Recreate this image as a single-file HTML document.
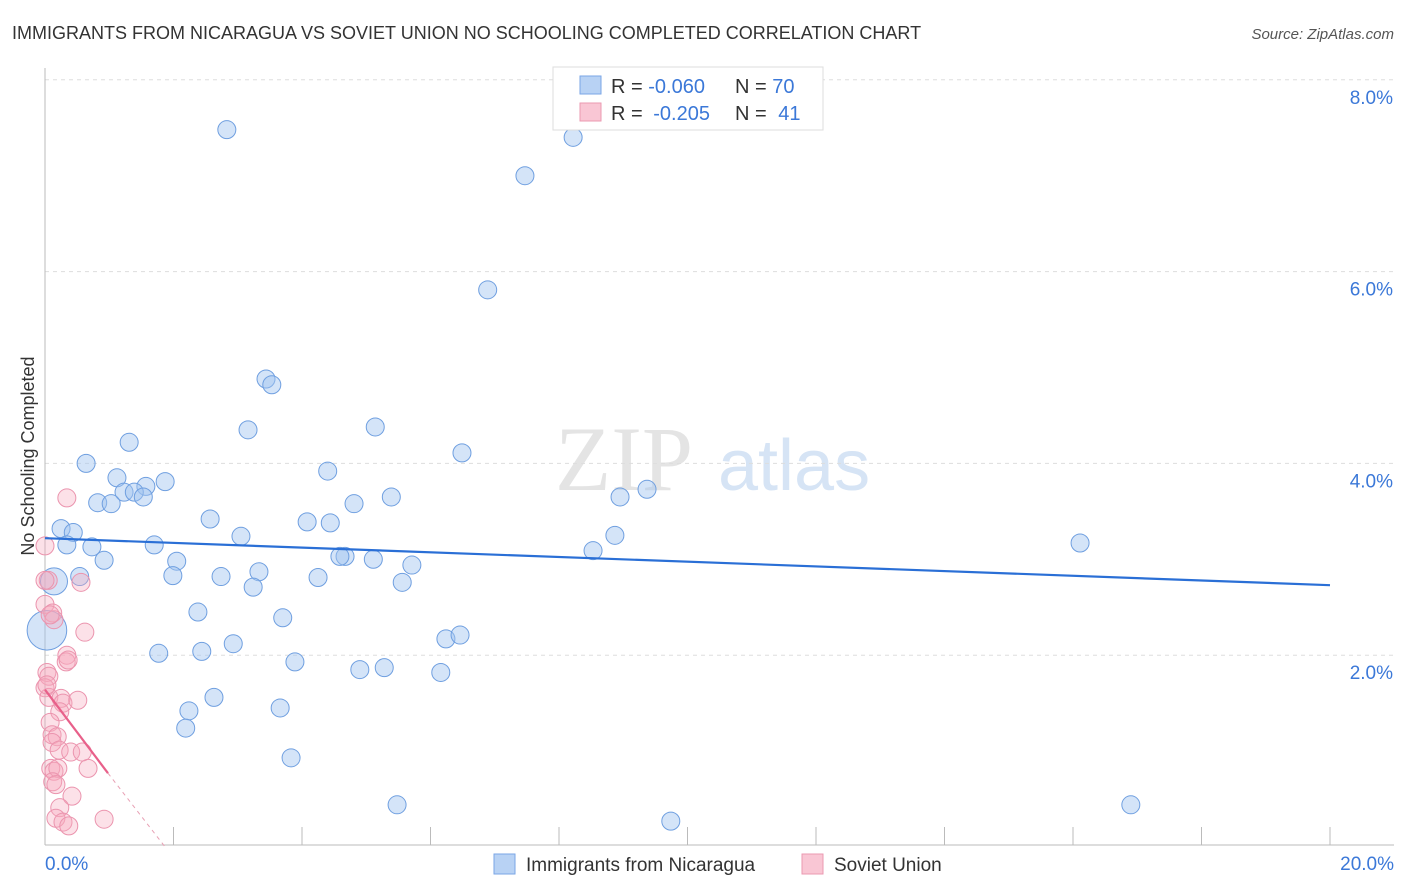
<!DOCTYPE html>
<html><head><meta charset="utf-8"><style>
body{margin:0;background:#fff;font-family:"Liberation Sans",sans-serif;}
svg{display:block}
</style></head><body>
<svg id="chart" width="1406" height="892">
<text x="12" y="39" font-size="18" fill="#333">IMMIGRANTS FROM NICARAGUA VS SOVIET UNION NO SCHOOLING COMPLETED CORRELATION CHART</text>
<text x="1394" y="39" font-size="15" fill="#555" font-style="italic" text-anchor="end">Source: ZipAtlas.com</text>
<text x="555" y="490" font-size="92" fill="#e4e4e4" font-family="Liberation Serif,serif">ZIP</text>
<text x="718" y="490" font-size="72" fill="#d6e4f5">atlas</text>
<text transform="translate(34,456) rotate(-90)" font-size="18" fill="#333" text-anchor="middle">No Schooling Completed</text>
<g id="grid"></g><g id="ticks"></g><g id="marks"></g>
<g>
<rect x="553" y="67" width="270" height="63" fill="#fff" stroke="#ddd"/>
<rect x="580" y="76" width="21" height="18" fill="#b8d2f4" stroke="#7aa6e6"/>
<rect x="580" y="103" width="21" height="18" fill="#f9c6d4" stroke="#eb99b1"/>
<text x="611" y="93" font-size="20" fill="#333">R = <tspan fill="#3b78d8">-0.060</tspan><tspan x="735">N = </tspan><tspan fill="#3b78d8">70</tspan></text>
<text x="611" y="120" font-size="20" fill="#333">R = <tspan fill="#3b78d8" dx="5">-0.205</tspan><tspan x="735">N = </tspan><tspan fill="#3b78d8" dx="6">41</tspan></text>
</g>
<g>
<rect x="494" y="854" width="21" height="20" fill="#b8d2f4" stroke="#7aa6e6"/>
<text x="526" y="871" font-size="19" fill="#333">Immigrants from Nicaragua</text>
<rect x="802" y="854" width="21" height="20" fill="#f9c6d4" stroke="#eb99b1"/>
<text x="834" y="871" font-size="19" fill="#333">Soviet Union</text>
</g>
</svg>
<script>
const yTicks=[2,4,6,8];
const yTickLabels=["2.0%","4.0%","6.0%","8.0%"];
const xTickLabels=["0.0%","20.0%"];
const blueX=[2.83,8.22,7.47,6.89,3.44,3.53,3.16,5.14,1.31,6.49,0.64,4.40,1.12,1.87,1.57,1.23,1.39,1.53,0.82,1.03,4.81,5.39,8.95,9.37,2.57,0.25,0.44,4.08,4.44,3.05,8.87,0.34,0.73,1.70,8.53,16.11,4.67,4.59,5.11,0.92,2.05,5.71,1.99,2.74,3.33,4.25,5.56,3.24,0.14,2.38,3.70,0.03,6.24,6.46,2.93,1.77,2.44,3.89,4.90,5.28,6.16,2.63,2.24,3.66,2.19,3.83,5.48,16.90,9.74,0.54];
const blueY=[7.48,7.40,7.00,5.81,4.88,4.82,4.35,4.38,4.22,4.11,4.00,3.92,3.85,3.81,3.76,3.70,3.70,3.65,3.59,3.58,3.58,3.65,3.65,3.73,3.42,3.32,3.28,3.39,3.38,3.24,3.25,3.15,3.13,3.15,3.09,3.17,3.03,3.03,3.00,2.99,2.98,2.94,2.83,2.82,2.87,2.81,2.76,2.71,2.77,2.45,2.39,2.26,2.17,2.21,2.12,2.02,2.04,1.93,1.85,1.87,1.82,1.56,1.42,1.45,1.24,0.93,0.44,0.44,0.27,2.82];
const blueSize=[1,1,1,1,1,1,1,1,1,1,1,1,1,1,1,1,1,1,1,1,1,1,1,1,1,1,1,1,1,1,1,1,1,1,1,1,1,1,1,1,1,1,1,1,1,1,1,1,1.5,1,1,2.2,1,1,1,1,1,1,1,1,1,1,1,1,1,1,1,1,1,1];
const pinkX=[0.34,0,0.05,0.56,0,0.12,0.14,0.62,0.34,0.33,0.03,0.06,0,0.06,0.25,0.28,0.51,0.23,0.08,0.11,0.19,0.11,0.22,0.40,0.58,0.09,0.14,0.20,0.67,0.12,0.17,0.42,0.23,0.17,0.28,0.37,0.92,0,0.08,0.03,0.36];
const pinkY=[3.64,3.14,2.78,2.76,2.53,2.44,2.37,2.24,2.00,1.93,1.82,1.78,1.66,1.56,1.55,1.50,1.53,1.41,1.30,1.17,1.15,1.09,1.01,0.99,0.99,0.82,0.79,0.82,0.82,0.68,0.65,0.53,0.41,0.30,0.26,0.22,0.29,2.78,2.42,1.69,1.95];
const blueTrend=[[0,3.22],[20,2.73]];
const pinkTrendSolid=[[0,1.64],[0.98,0.77]];
const pinkTrendDash=[[0.98,0.77],[1.87,0]];

const NS="http://www.w3.org/2000/svg";
const X=v=>45+v*64.25, Y=v=>847-v*95.9;
function mk(tag,attrs,parent){const e=document.createElementNS(NS,tag);for(const k in attrs)e.setAttribute(k,attrs[k]);document.getElementById(parent).appendChild(e);return e;}
yTicks.forEach((t,i)=>{
  const g=mk('line',{x1:45,x2:1394,y1:Y(t),y2:Y(t),stroke:'#ddd','stroke-dasharray':'4,4'},'grid');
  
  
  const l=mk('text',{x:1393,y:Y(t)+24,'font-size':19,fill:'#3b78d8','text-anchor':'end'},'ticks');
  l.textContent=yTickLabels[i];
  
  
});
const ax=mk('line',{x1:45,x2:45,y1:68,y2:845,stroke:'#bbb'},'grid');


const bx=mk('line',{x1:45,x2:1394,y1:845,y2:845,stroke:'#bbb'},'grid');


for(let i=1;i<=10;i++){
  const t=mk('line',{x1:X(i*2),x2:X(i*2),y1:827,y2:845,stroke:'#bbb'},'grid');
  
  
}
[[0,'start',45],[1,'end',1394]].forEach(([i,a,x])=>{
  const l=mk('text',{x:x,y:870,'font-size':19,fill:'#3b78d8','text-anchor':a},'ticks');
  l.textContent=xTickLabels[i];
  
  
});
blueX.forEach((v,i)=>{
  const c=mk('circle',{cx:X(v),cy:Y(blueY[i]),r:9*blueSize[i],fill:'rgba(160,196,240,0.45)',stroke:'#6f9fe0','stroke-width':1},'marks');
  
  
});
pinkX.forEach((v,i)=>{
  const c=mk('circle',{cx:X(v),cy:Y(pinkY[i]),r:9,fill:'rgba(245,170,190,0.35)',stroke:'#eb94ae','stroke-width':1},'marks');
  
  
});
const bt=mk('line',{x1:X(blueTrend[0][0]),y1:Y(blueTrend[0][1]),x2:X(blueTrend[1][0]),y2:Y(blueTrend[1][1]),stroke:'#2a6fd6','stroke-width':2.2},'marks');


const pt=mk('line',{x1:X(pinkTrendSolid[0][0]),y1:Y(pinkTrendSolid[0][1]),x2:X(pinkTrendSolid[1][0]),y2:Y(pinkTrendSolid[1][1]),stroke:'#e8608a','stroke-width':2.2},'marks');


const pd=mk('line',{x1:X(pinkTrendDash[0][0]),y1:Y(pinkTrendDash[0][1]),x2:X(pinkTrendDash[1][0]),y2:Y(pinkTrendDash[1][1]),stroke:'#e8a0b4','stroke-width':1,'stroke-dasharray':'4,4'},'marks');


</script>
</body></html>
